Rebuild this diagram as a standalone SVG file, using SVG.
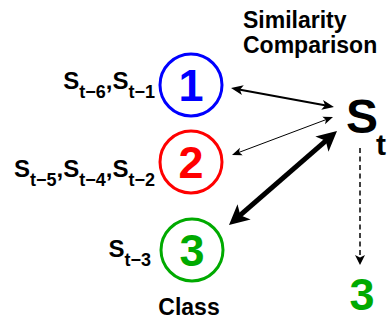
<svg xmlns="http://www.w3.org/2000/svg" width="388" height="322" viewBox="0 0 388 322">
<style>
text{font-family:"Liberation Sans",Arial,sans-serif;font-weight:bold}
.lab{font-size:24px;fill:#000}
.sub{font-size:18px}
.num{font-size:45px;text-anchor:middle}
.ttl{font-size:23px;fill:#000}
.ring{fill:none;stroke-width:3}
.c{fill:none;stroke:#000}
</style>
<defs>
<marker id="h1" markerUnits="userSpaceOnUse" markerWidth="14" markerHeight="12" viewBox="0 -6 14 12" refX="4" refY="0" orient="auto-start-reverse"><path d="M12,0 L0,-5 L3,0 L0,5 Z" fill="#000"/></marker>
<marker id="h2" markerUnits="userSpaceOnUse" markerWidth="12" markerHeight="10" viewBox="0 -5 12 10" refX="3" refY="0" orient="auto-start-reverse"><path d="M10,0 L0,-4 L2.5,0 L0,4 Z" fill="#000"/></marker>
<marker id="h3" markerUnits="userSpaceOnUse" markerWidth="22" markerHeight="22" viewBox="0 -11 22 22" refX="7" refY="0" orient="auto-start-reverse"><path d="M20,0 L0,-10 L5,0 L0,10 Z" fill="#000"/></marker>
<marker id="h4" markerUnits="userSpaceOnUse" markerWidth="12" markerHeight="12" viewBox="0 -6 12 12" refX="3" refY="0" orient="auto"><path d="M10,0 L0,-5 L2.5,0 L0,5 Z" fill="#000"/></marker>
</defs>
<text class="ttl" x="243" y="28">Similarity</text>
<text class="ttl" x="243" y="53">Comparison</text>
<g id="connectors">
<line class="c" x1="238.9" y1="89.45" x2="326.1" y2="105.55" stroke-width="2" marker-start="url(#h1)" marker-end="url(#h1)"/>
<line class="c" x1="238.55" y1="152.54" x2="326.45" y2="119.46" stroke-width="1" marker-start="url(#h2)" marker-end="url(#h2)"/>
<line class="c" x1="238.8" y1="216.47" x2="327.2" y2="139.53" stroke-width="5" marker-start="url(#h3)" marker-end="url(#h3)"/>
<line class="c" x1="360" y1="148" x2="360" y2="258" stroke-width="1.5" stroke-dasharray="5,3.5" marker-end="url(#h4)"/>
</g>
<g id="node1">
<circle class="ring" cx="191" cy="85" r="31" stroke="#0000ff"/>
<text class="num" x="191" y="101" fill="#0000ff">1</text>
<text class="lab" x="155" y="89" text-anchor="end">S<tspan class="sub" dy="9">t−6</tspan><tspan dy="-9">,S</tspan><tspan class="sub" dy="9">t−1</tspan></text>
</g>
<g id="node2">
<circle class="ring" cx="191" cy="162" r="31" stroke="#ff0000"/>
<text class="num" x="191" y="178" fill="#ff0000">2</text>
<text class="lab" x="155" y="177" text-anchor="end">S<tspan class="sub" dy="9">t−5</tspan><tspan dy="-9">,S</tspan><tspan class="sub" dy="9">t−4</tspan><tspan dy="-9">,S</tspan><tspan class="sub" dy="9">t−2</tspan></text>
</g>
<g id="node3">
<circle class="ring" cx="192" cy="250" r="31" stroke="#00aa00"/>
<text class="num" x="192" y="266" fill="#00aa00">3</text>
<text class="lab" x="151" y="257" text-anchor="end">S<tspan class="sub" dy="9">t−3</tspan></text>
<text class="ttl" x="189" y="315" text-anchor="middle" font-size="22">Class</text>
</g>
<g id="target">
<text x="346" y="133" font-size="48" fill="#000">S</text>
<text x="376" y="155" font-size="30" fill="#000">t</text>
<text class="num" x="362" y="310" fill="#00aa00">3</text>
</g>
</svg>
